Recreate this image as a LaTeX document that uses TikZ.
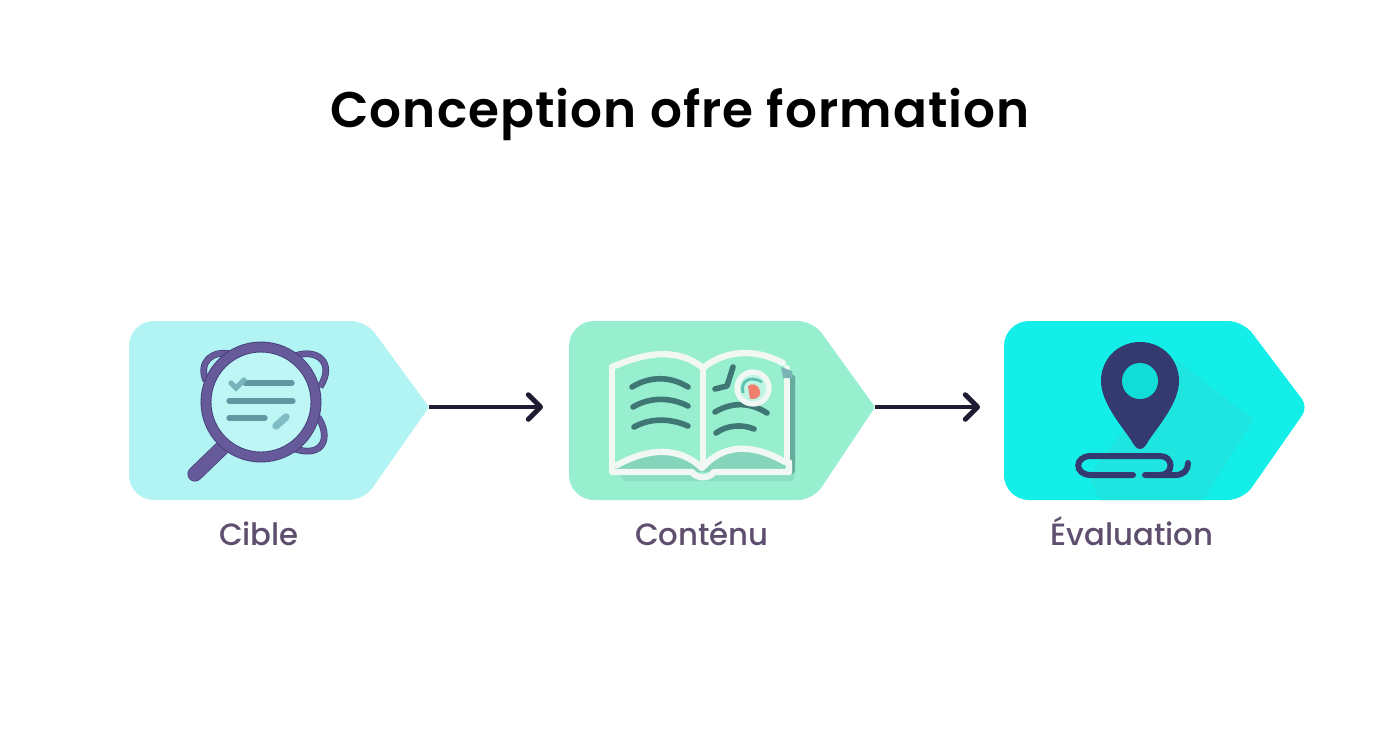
\documentclass[tikz,border=0pt]{standalone}
\usepackage{fontspec}
\setmainfont{Poppins}
\newfontfamily\titlefont[LetterSpace=2.2]{Poppins SemiBold}
\newfontfamily\labelfont{Poppins Medium}
\usetikzlibrary{arrows.meta}
\definecolor{cibletag}{HTML}{B2F3F3}
\definecolor{contenutag}{HTML}{97EFD0}
\definecolor{evaltag}{HTML}{14EEE8}
\definecolor{evalshade}{HTML}{1FE5E0}
\definecolor{loupe}{HTML}{675A9B}
\definecolor{loupedark}{HTML}{433D78}
\definecolor{loupeline}{HTML}{5F97A3}
\definecolor{bookwhite}{HTML}{F1F8F4}
\definecolor{bookline}{HTML}{3F7775}
\definecolor{heartred}{HTML}{F07F6E}
\definecolor{pindark}{HTML}{343A70}
\definecolor{labeltext}{HTML}{5E4F6E}
\definecolor{arrowdark}{HTML}{1E1B33}
\tikzset{
    flowarrow/.style={draw=arrowdark, line width=2.3pt, -{Straight Barb[length=7pt, width=14pt, line width=2.8pt, round]}},
    steplabel/.style={anchor=base, text=labeltext, font=\fontsize{17.5}{20}\labelfont},
    bookstroke/.style={draw=bookwhite, line width=3.6pt, line join=round, line cap=round},
    bookrow/.style={draw=bookline, line width=3.2pt, line cap=round},
    loupebar/.style={draw=loupeline, line width=3pt, line cap=round},
    loupelobe/.style={draw=loupedark, line width=0.4pt, double=loupe, double distance=3pt},
    pinstroke/.style={draw=pindark, line width=3.4pt, line cap=round}
}
\begin{document}
\begin{tikzpicture}[x=0.02cm, y=-0.02cm]
    \useasboundingbox (0,0) rectangle (1392,752);
    \node[anchor=base, font=\fontsize{28.5}{32}\titlefont] (title) at (680,127) {Conception ofre formation};
    % tags
    \fill[cibletag] (250,321) [rounded corners=0.5cm] -- (129,321) -- (129,500) -- (250,500) [rounded corners=0.3cm] -- (364,500) [rounded corners=1pt] -- (429,407) [rounded corners=0.3cm] -- (366,321) -- cycle;
    \fill[contenutag] (700,321) [rounded corners=0.5cm] -- (569,321) -- (569,500) -- (700,500) [rounded corners=0.3cm] -- (813,500) [rounded corners=1pt] -- (875,407) [rounded corners=0.3cm] -- (813,321) -- cycle;
    \fill[evaltag] (1120,321) [rounded corners=0.5cm] -- (1004,321) -- (1004,500) -- (1120,500) [rounded corners=0.3cm] -- (1243,500) [rounded corners=0.2cm] -- (1308,407) [rounded corners=0.3cm] -- (1243,321) -- cycle;
    \coordinate (cibletip) at (429,407);
    \coordinate (contenutip) at (875,407);
    \coordinate (cibleend) at (543,407);
    \coordinate (contenuend) at (980,407);
    \draw[flowarrow] (cibletip) -- (cibleend);
    \draw[flowarrow] (contenutip) -- (contenuend);
    % magnifier
    \draw[loupelobe] (206,381) .. controls (198,362) and (212,350) .. (231,354);
    \draw[loupelobe] (295,356) .. controls (316,348) and (336,362) .. (320,387);
    \draw[loupelobe] (318,417) .. controls (331,437) and (324,458) .. (295,449);
    \draw[loupedark, line width=8.6pt, line cap=round] (223,447) -- (195,474);
    \draw[loupe, line width=7.8pt, line cap=round] (223,447) -- (195,474);
    \draw[loupedark, fill=cibletag!85!white, line width=6.2pt] (261,402) circle (55);
    \draw[loupe, line width=5.2pt] (261,402) circle (55);
    \draw[loupebar] (245,383) -- (292,383);
    \draw[loupebar] (229,401) -- (293,401);
    \draw[loupebar] (229,418) -- (265,418);
    \draw[loupebar, draw=loupeline!70!cibletag] (231,383) -- (236,388) -- (244,380);
    \draw[loupebar, draw=loupeline!60!cibletag, line width=4.2pt] (276,426) -- (286,417);
    % book
    \fill[bookline!55!contenutag] (788,372) -- (795,376) -- (795,472) -- (788,478) -- cycle;
    \fill[bookline!14!contenutag] (618,474) -- (795,474) -- (793,481) -- (625,481) -- cycle;
    \fill[bookline!22!contenutag] (617,465) .. controls (650,444) and (680,447) .. (701,468) -- (705,468) .. controls (725,445) and (750,440) .. (785,462) -- (785,472) -- (617,472) -- cycle;
    \draw[bookstroke] (612,367) .. controls (640,355) and (675,345) .. (703,368) .. controls (725,350) and (755,348) .. (783,363);
    \draw[bookstroke] (612,367) -- (612,471);
    \draw[bookstroke] (787,368) -- (787,462);
    \draw[bookstroke] (703,368) -- (703,467);
    \draw[bookstroke] (617,465) .. controls (650,447) and (680,447) .. (702,468) .. controls (722,445) and (750,442) .. (785,462);
    \draw[bookstroke] (612,472) -- (692,472) .. controls (697,479) and (709,479) .. (714,472) -- (789,472) -- (789,462);
    \fill[bookline!50!cibletag] (781,367) -- (792,371) -- (793,378) -- (783,378) -- cycle;
    \draw[bookrow] (632,387) .. controls (650,376) and (670,376) .. (688,387);
    \draw[bookrow] (633,407) .. controls (650,397) and (670,397) .. (688,406);
    \draw[bookrow] (634,427) .. controls (650,418) and (670,418) .. (688,426);
    \draw[bookrow] (715,412) .. controls (732,402) and (750,402) .. (767,413);
    \draw[bookrow] (716,433) .. controls (727,425) and (742,424) .. (754,429);
    \draw[bookrow, line join=round] (715,389) -- (727,386) -- (733,367);
    \draw[bookwhite, fill=contenutag!60!white, line width=3pt] (753,388) circle (16);
    \draw[draw=contenutag!60!teal, line width=1.6pt] (743,393) .. controls (740,381) and (750,375) .. (762,382);
    \fill[heartred] (748,386) .. controls (752,382) and (759,385) .. (760,391) .. controls (762,396) and (756,400) .. (750,399) -- cycle;
    % pin
    \begin{scope}
        \clip (1004,321) rectangle (1301,500);
        \fill[evalshade] (1177,360) -- (1253,420) -- (1203,500) -- (1100,500) -- (1088,476) -- cycle;
    \end{scope}
    \fill[pindark] (1140,449) .. controls (1136,449) and (1134,445) .. (1131,440) .. controls (1120,424) and (1101,402) .. (1101,381) .. controls (1101,359) and (1118,342) .. (1140,342) .. controls (1162,342) and (1179,359) .. (1179,381) .. controls (1179,402) and (1160,424) .. (1149,440) .. controls (1146,445) and (1144,449) .. (1140,449) -- cycle;
    \fill[evaltag!85!teal] (1140,381) circle (18);
    \draw[pinstroke] (1133,475) -- (1091,475) .. controls (1074,475) and (1074,456) .. (1091,456) -- (1160,456) .. controls (1174,456) and (1174,475) .. (1160,475) -- (1145,475);
    \draw[pinstroke] (1160,475) -- (1175,475) .. controls (1184,475) and (1188,470) .. (1188,463);
    % labels
    \node[steplabel] (cible) at (259,545) {Cible};
    \node[steplabel] (contenu) at (702,545) {Conténu};
    \node[steplabel] (evaluation) at (1132,545) {Évaluation};
\end{tikzpicture}
\end{document}
